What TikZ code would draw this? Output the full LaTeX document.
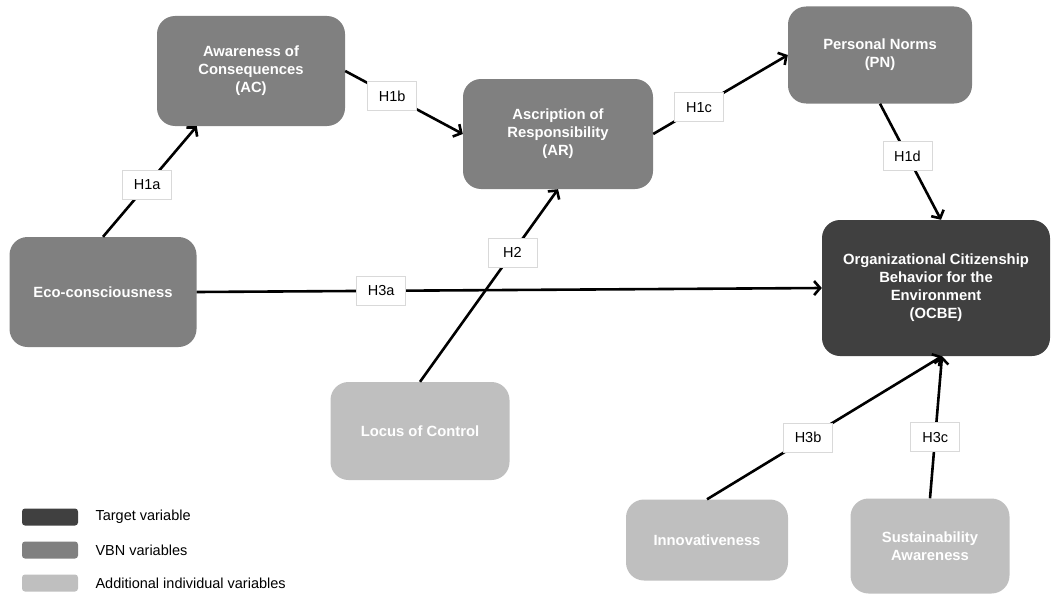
\documentclass[tikz,border=0pt]{standalone}
\usepackage{fontspec}
\setmainfont{Liberation Sans}
\usetikzlibrary{arrows.meta}
\definecolor{targetgray}{HTML}{404040}
\definecolor{vbngray}{HTML}{808080}
\definecolor{addgray}{HTML}{BFBFBF}
\definecolor{labelline}{HTML}{D9D9D9}
\tikzset{
      var/.style={rounded corners=18pt, text=white, align=center,
            font=\fontsize{14.8}{18}\selectfont\bfseries},
      target/.style={var, fill=targetgray},
      vbn/.style={var, fill=vbngray},
      addvar/.style={var, fill=addgray},
      hyp/.style={draw=labelline, fill=white, line width=0.6, minimum width=49pt,
            minimum height=29pt, inner sep=0pt, font=\fontsize{14.5}{17}\selectfont},
      path/.style={draw=black, line width=2.6,
            -{Straight Barb[length=6pt,width=14pt]}},
      swatch/.style={rounded corners=3pt, minimum width=56pt, minimum height=17pt},
      legtext/.style={anchor=west, font=\fontsize{14.5}{17}\selectfont},
}

\begin{document}
\begin{tikzpicture}[x=1pt, y=-1pt]
        \useasboundingbox (0,0) rectangle (1051,594);

        % Draw the variables
        \node[vbn, minimum width=188pt, minimum height=110pt] (ac) at (251,71) {Awareness of\\Consequences\\(AC)};
        \node[vbn, minimum width=190pt, minimum height=110pt] (ar) at (558,134) {Ascription of\\Responsibility\\(AR)};
        \node[vbn, minimum width=184pt, minimum height=97pt] (pn) at (880,55) {Personal Norms\\(PN)};
        \node[vbn, minimum width=187pt, minimum height=110pt] (eco) at (103,292) {Eco-consciousness};
        \node[target, minimum width=228pt, minimum height=136pt] (ocbe) at (936,288) {Organizational Citizenship\\Behavior for the\\Environment\\(OCBE)};
        \node[addvar, minimum width=179pt, minimum height=98pt] (loc) at (420,431) {Locus of Control};
        \node[addvar, minimum width=162pt, minimum height=81pt] (inno) at (707,540) {Innovativeness};
        \node[addvar, minimum width=159pt, minimum height=95pt] (sust) at (930,546) {Sustainability\\Awareness};

        % Draw the hypotheses
        \draw[path] (eco.north) -- ([xshift=40pt]ac.south west) node[hyp, pos=0.47] {H1a};
        \draw[path] (ac.east) -- (ar.west) node[hyp, pos=0.4] {H1b};
        \draw[path] (ar.east) -- (pn.west) node[hyp, pos=0.34] {H1c};
        \draw[path] (pn.south) -- ([xshift=5pt]ocbe.north) node[hyp, pos=0.45] {H1d};
        \draw[path] (loc.north) -- (ar.south) node[hyp, pos=0.67] {H2};
        \draw[path] (eco.east) -- (ocbe.west) node[hyp, pos=0.295] {H3a};
        \draw[path] (inno.north) -- ([xshift=6pt]ocbe.south) node[hyp, pos=0.43] {H3b};
        \draw[path] (sust.north) -- ([xshift=6pt]ocbe.south) node[hyp, pos=0.43] {H3c};

        % Draw the legend
        \node[swatch, fill=targetgray] (keytarget) at (50,517) {};
        \node[swatch, fill=vbngray] (keyvbn) at (50,550) {};
        \node[swatch, fill=addgray] (keyadd) at (50,583) {};
        \node[legtext] at (92,517) {Target variable};
        \node[legtext] at (92,550) {VBN variables};
        \node[legtext] at (92,583) {Additional individual variables};

\end{tikzpicture}
\end{document}
